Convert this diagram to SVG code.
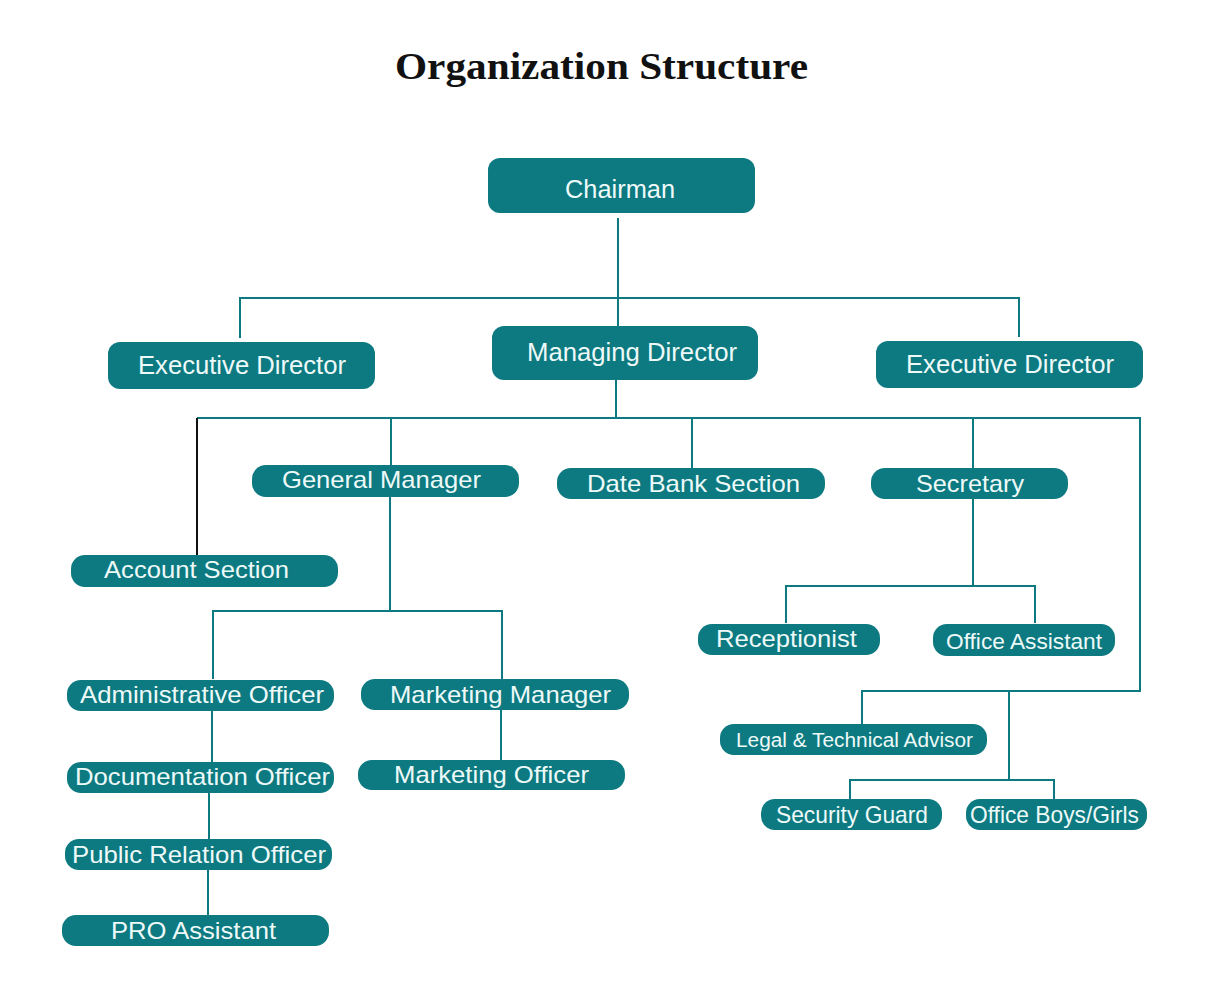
<svg xmlns="http://www.w3.org/2000/svg" width="1211" height="983" viewBox="0 0 1211 983">
<style>
.box{fill:#0c7a80}
.t{font-family:"Liberation Sans",Arial,sans-serif;font-size:24px;fill:#eef9f9}
.big{font-size:26px}
.ln{stroke:#0c7a80;stroke-width:2;fill:none}
.title{font-family:"Liberation Serif","Times New Roman",serif;font-size:38px;font-weight:bold;fill:#111}
</style>
<rect width="1211" height="983" fill="#ffffff"/>
<text class="title" x="395" y="79" textLength="413" lengthAdjust="spacingAndGlyphs">Organization Structure</text>
<g id="connectors">
<path class="ln" d="M618 218V326M240 338V298H1019V337"/>
<path class="ln" d="M616 380V418M197 418H1140V691H862V724M391 418V466M692 418V468M973 418V468"/>
<path d="M197 418V555" stroke="#111" stroke-width="2" fill="none"/>
<path class="ln" d="M1009 691V780M850 800V780H1054V800"/>
<path class="ln" d="M973 499V586M786 623V586H1035V623"/>
<path class="ln" d="M390 497V611M213 679V611H502V679"/>
<path class="ln" d="M212 711V762M501 710V760M209 793V839M208 870V915"/>
</g>
<g id="chairman"><rect class="box" x="488" y="158" width="267" height="55" rx="12"/><text class="t big" x="565" y="198" textLength="110" lengthAdjust="spacingAndGlyphs">Chairman</text></g>
<g id="exec-left"><rect class="box" x="108" y="342" width="267" height="47" rx="12"/><text class="t big" x="138" y="374" textLength="208" lengthAdjust="spacingAndGlyphs">Executive Director</text></g>
<g id="managing-director"><rect class="box" x="492" y="326" width="266" height="54" rx="12"/><text class="t big" x="527" y="361" textLength="210" lengthAdjust="spacingAndGlyphs">Managing Director</text></g>
<g id="exec-right"><rect class="box" x="876" y="341" width="267" height="47" rx="12"/><text class="t big" x="906" y="373" textLength="208" lengthAdjust="spacingAndGlyphs">Executive Director</text></g>
<g id="general-manager"><rect class="box" x="252" y="465" width="267" height="32" rx="14"/><text class="t" x="282" y="488" textLength="199" lengthAdjust="spacingAndGlyphs">General Manager</text></g>
<g id="account-section"><rect class="box" x="71" y="555" width="267" height="32" rx="14"/><text class="t" x="104" y="578" textLength="185" lengthAdjust="spacingAndGlyphs">Account Section</text></g>
<g id="date-bank"><rect class="box" x="557" y="468" width="268" height="31" rx="14"/><text class="t" x="587" y="492" textLength="213" lengthAdjust="spacingAndGlyphs">Date Bank Section</text></g>
<g id="secretary"><rect class="box" x="871" y="468" width="197" height="31" rx="14"/><text class="t" x="916" y="492" textLength="108" lengthAdjust="spacingAndGlyphs">Secretary</text></g>
<g id="receptionist"><rect class="box" x="698" y="624" width="182" height="31" rx="14"/><text class="t" x="716" y="647" textLength="141" lengthAdjust="spacingAndGlyphs">Receptionist</text></g>
<g id="office-assistant"><rect class="box" x="933" y="624" width="182" height="32" rx="14"/><text class="t" x="946" y="649" textLength="156" lengthAdjust="spacingAndGlyphs" style="font-size:22px">Office Assistant</text></g>
<g id="admin-officer"><rect class="box" x="67" y="680" width="267" height="31" rx="14"/><text class="t" x="80" y="703" textLength="244" lengthAdjust="spacingAndGlyphs">Administrative Officer</text></g>
<g id="marketing-manager"><rect class="box" x="361" y="679" width="268" height="31" rx="14"/><text class="t" x="390" y="703" textLength="221" lengthAdjust="spacingAndGlyphs">Marketing Manager</text></g>
<g id="documentation-officer"><rect class="box" x="67" y="762" width="267" height="31" rx="14"/><text class="t" x="75" y="785" textLength="255" lengthAdjust="spacingAndGlyphs">Documentation Officer</text></g>
<g id="marketing-officer"><rect class="box" x="358" y="760" width="267" height="30" rx="14"/><text class="t" x="394" y="783" textLength="195" lengthAdjust="spacingAndGlyphs">Marketing Officer</text></g>
<g id="public-relation-officer"><rect class="box" x="65" y="839" width="267" height="31" rx="14"/><text class="t" x="72" y="863" textLength="254" lengthAdjust="spacingAndGlyphs">Public Relation Officer</text></g>
<g id="pro-assistant"><rect class="box" x="62" y="915" width="267" height="31" rx="14"/><text class="t" x="111" y="939" textLength="165" lengthAdjust="spacingAndGlyphs">PRO Assistant</text></g>
<g id="legal-advisor"><rect class="box" x="720" y="724" width="267" height="31" rx="14"/><text class="t" x="736" y="747" textLength="237" lengthAdjust="spacingAndGlyphs" style="font-size:20px">Legal &amp; Technical Advisor</text></g>
<g id="security-guard"><rect class="box" x="761" y="799" width="181" height="31" rx="14"/><text class="t" x="776" y="823" textLength="152" lengthAdjust="spacingAndGlyphs">Security Guard</text></g>
<g id="office-boys-girls"><rect class="box" x="966" y="799" width="181" height="31" rx="14"/><text class="t" x="970" y="823" textLength="169" lengthAdjust="spacingAndGlyphs">Office Boys/Girls</text></g>
</svg>
